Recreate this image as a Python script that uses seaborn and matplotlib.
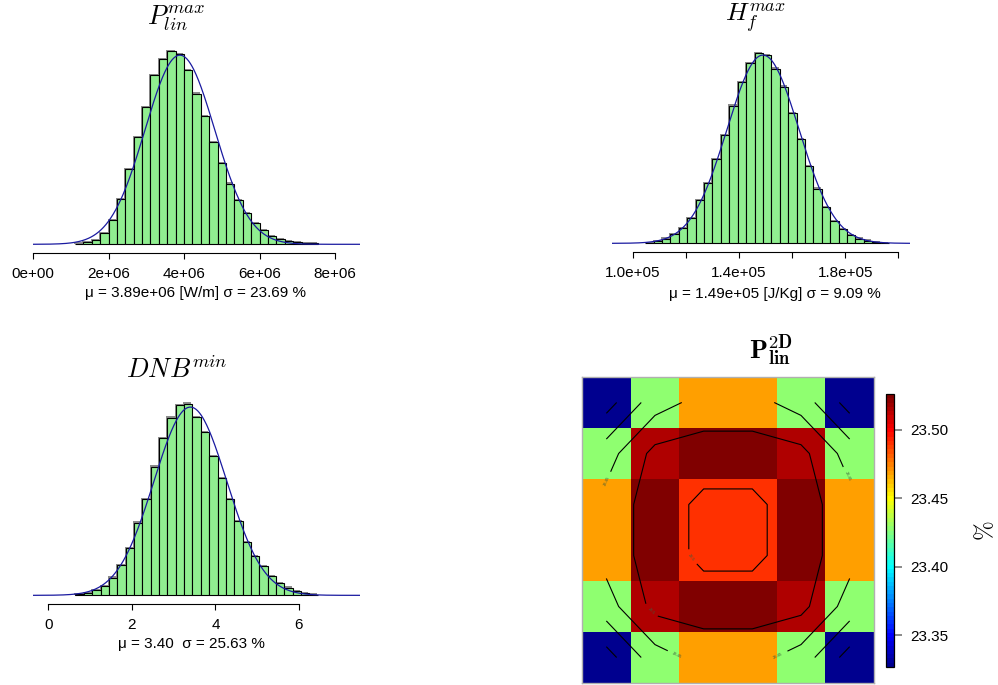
import numpy as np
import pandas as pd
import matplotlib
matplotlib.use("Agg")
import matplotlib.pyplot as plt
from matplotlib.colors import ListedColormap
from matplotlib.ticker import FormatStrFormatter
import seaborn as sns

sns.set_theme(style="white")
plt.rcParams['font.family'] = ['Liberation Sans', 'DejaVu Sans']
plt.rcParams['mathtext.fontset'] = 'cm'
plt.rcParams['text.color'] = 'black'
plt.rcParams['xtick.labelcolor'] = 'black'
plt.rcParams['ytick.labelcolor'] = 'black'

# ---- data ----
# P_lin^max histogram (density, in 1e-7 per W/m)
p_mean, p_sd_pct = 3.89e6, 23.69
p_bin0, p_binw = 1.1111e6, 2.2222e5
p_dens = [0.015, 0.054, 0.10, 0.25, 0.55, 1.04, 1.73, 2.46, 3.14, 3.87, 4.24, 4.43, 4.35, 3.98, 3.45,
          2.93, 2.33, 1.85, 1.39, 1.02, 0.71, 0.49, 0.32, 0.18, 0.11, 0.07, 0.05, 0.03, 0.02]
p_ticks = [0, 2e6, 4e6, 6e6, 8e6]
p_ticklabels = ['0e+00', '2e+06', '4e+06', '6e+06', '8e+06']

# H_f^max histogram (density, in 1e-5 per J/Kg)
h_mean, h_sd_pct = 1.49e5, 9.09
h_bin0, h_binw = 1.046e5, 3.17e3
h_dens = [0.010, 0.036, 0.073, 0.140, 0.239, 0.400, 0.675, 0.946, 1.320, 1.699, 2.156, 2.520, 2.816, 2.982, 2.951,
          2.733, 2.452, 2.037, 1.632, 1.205, 0.857, 0.566, 0.348, 0.229, 0.135, 0.073, 0.042, 0.021, 0.010]
h_ticks = [1.0e5, 1.2e5, 1.4e5, 1.6e5, 1.8e5, 2.0e5]
h_ticklabels = ['1.0e+05', '', '1.4e+05', '', '1.8e+05', '']

# DNB^min histogram (density)
d_mean, d_sd_pct = 3.40, 25.63
d_bin0, d_binw = 0.65, 0.2
d_dens = [0.0024, 0.0056, 0.012, 0.023, 0.043, 0.074, 0.115, 0.177, 0.234, 0.313, 0.383, 0.432, 0.462, 0.466, 0.434,
          0.396, 0.339, 0.285, 0.234, 0.181, 0.129, 0.095, 0.071, 0.047, 0.030, 0.019, 0.010, 0.006, 0.002]
d_ticks = [0, 2, 4, 6]
d_ticklabels = ['0', '2', '4', '6']

# P_lin 2D map (% std), 6x6 assemblies
p2d_values = [
    [23.329, 23.428, 23.468, 23.468, 23.428, 23.329],
    [23.428, 23.515, 23.525, 23.525, 23.515, 23.428],
    [23.468, 23.525, 23.489, 23.489, 23.525, 23.468],
    [23.468, 23.525, 23.489, 23.489, 23.525, 23.468],
    [23.428, 23.515, 23.525, 23.525, 23.515, 23.428],
    [23.329, 23.428, 23.468, 23.468, 23.428, 23.329],
]
p2d_vmin, p2d_vmax = 23.327, 23.526
p2d_levels = [23.35, 23.40, 23.45, 23.50]
p2d_cticks = [23.35, 23.40, 23.45, 23.50]

# 64-colour jet-like palette (fields::tim.colors)
tim_colors = ListedColormap([
    "#00008F", "#00009F", "#0000AF", "#0000BF", "#0000CF", "#0000DF", "#0000EF", "#0000FF",
    "#0010FF", "#0020FF", "#0030FF", "#0040FF", "#0050FF", "#0060FF", "#0070FF", "#0080FF",
    "#008FFF", "#009FFF", "#00AFFF", "#00BFFF", "#00CFFF", "#00DFFF", "#00EFFF", "#00FFFF",
    "#10FFEF", "#20FFDF", "#30FFCF", "#40FFBF", "#50FFAF", "#60FF9F", "#70FF8F", "#80FF80",
    "#8FFF70", "#9FFF60", "#AFFF50", "#BFFF40", "#CFFF30", "#DFFF20", "#EFFF10", "#FFFF00",
    "#FFEF00", "#FFDF00", "#FFCF00", "#FFBF00", "#FFAF00", "#FF9F00", "#FF8F00", "#FF8000",
    "#FF7000", "#FF6000", "#FF5000", "#FF4000", "#FF3000", "#FF2000", "#FF1000", "#FF0000",
    "#EF0000", "#DF0000", "#CF0000", "#BF0000", "#AF0000", "#9F0000", "#8F0000", "#800000"])

# ---- layout (pixels) ----
W, H = 998, 685
fig = plt.figure(figsize=(W / 100, H / 100), dpi=100)


def box(l, t, r, b):
    return [l / W, 1 - b / H, (r - l) / W, (b - t) / H]


def ftext(x, y, s, **kw):
    fig.text(x / W, 1 - y / H, s, ha='center', va='center', color='black', **kw)


def draw_hist(rect, bin0, binw, dens, scale, mean, sd_pct, xlim, ticks, ticklabels):
    ax = fig.add_axes(box(*rect))
    dens = np.array(dens) * scale
    edges = bin0 + binw * np.arange(len(dens) + 1)
    sd = mean * sd_pct / 100
    pk = 1 / (sd * np.sqrt(2 * np.pi))
    ylim = (-0.046 * pk, 1.08 * pk)
    # one pixel in data units, for the drop shadow
    px_x = (xlim[1] - xlim[0]) / (rect[2] - rect[0])
    px_y = (ylim[1] - ylim[0]) / (rect[3] - rect[1])
    df = pd.DataFrame({'x': edges[:-1] + binw / 2, 'w': dens})
    shadow = pd.DataFrame({'x': df['x'] - 1.0 * px_x, 'w': df['w'] + 1.2 * px_y})
    sns.histplot(data=shadow, x='x', weights='w', bins=list(edges - 1.0 * px_x), ax=ax,
                 color='#8c8c8c', edgecolor='none', alpha=1)
    sns.histplot(data=df, x='x', weights='w', bins=list(edges), ax=ax, color='#90EE90',
                 edgecolor='black', linewidth=0.8, alpha=1)
    xs = np.linspace(xlim[0], xlim[1], 400)
    ys = np.exp(-0.5 * ((xs - mean) / sd) ** 2) / (sd * np.sqrt(2 * np.pi))
    ax.plot(xs, ys, color='#1a1aa0', linewidth=0.9)
    ax.set_xlim(xlim)
    ax.set_ylim(ylim)
    ax.set_xlabel('')
    ax.set_ylabel('')
    ax.set_yticks([])
    ax.set_xticks(ticks)
    ax.set_xticklabels(ticklabels)
    for s in ['left', 'top', 'right']:
        ax.spines[s].set_visible(False)
    ax.spines['bottom'].set_bounds(ticks[0], ticks[-1])
    ax.spines['bottom'].set_color('black')
    ax.spines['bottom'].set_linewidth(0.8)
    ax.tick_params(axis='x', bottom=True, length=4.5, width=0.8, color='black', pad=5.5,
                   labelsize=11, labelcolor='black')
    ax.patch.set_alpha(0)
    return ax


draw_hist((33, 40, 360, 253), p_bin0, p_binw, p_dens, 1e-7, p_mean, p_sd_pct,
          (0, 8.66e6), p_ticks, p_ticklabels)
draw_hist((612, 40, 910, 252), h_bin0, h_binw, h_dens, 1e-5, h_mean, h_sd_pct,
          (0.921e5, 2.044e5), h_ticks, h_ticklabels)
draw_hist((33, 392, 360, 604), d_bin0, d_binw, d_dens, 1.0, d_mean, d_sd_pct,
          (-0.366, 7.46), d_ticks, d_ticklabels)

ftext(176, 18, r'$P_{lin}^{max}$', size=19)
ftext(755, 18, r'$H_f^{max}$', size=18.5)
ftext(177, 370, r'$DNB^{min}$', size=19)
ftext(771, 351, r'$\mathbf{P}_{\mathbf{lin}}^{\mathbf{2D}}$', size=19)

ftext(195.5, 293, 'μ = %.2e [W/m] σ = %.2f %%' % (p_mean, p_sd_pct), size=11)
ftext(774.5, 294, 'μ = %.2e [J/Kg] σ = %.2f %%' % (h_mean, h_sd_pct), size=11)
ftext(191.5, 644, 'μ = %.2f  σ = %.2f %%' % (d_mean, d_sd_pct), size=11)

# ---- 2D map ----
ax4 = fig.add_axes(box(582, 377, 874, 683))
cax = fig.add_axes(box(886, 394, 894, 667))
z = np.array(p2d_values)
sns.heatmap(z, ax=ax4, cbar_ax=cax, cmap=tim_colors, vmin=p2d_vmin, vmax=p2d_vmax,
            xticklabels=False, yticklabels=False, cbar_kws={'ticks': p2d_cticks})
for s in ax4.spines.values():
    s.set_visible(True)
    s.set_edgecolor('#b0b0b0')
    s.set_linewidth(1.0)
gx, gy = np.meshgrid(np.arange(z.shape[1]) + 0.5, np.arange(z.shape[0]) + 0.5)
cs = ax4.contour(gx, gy, z, levels=p2d_levels, colors='black', linewidths=0.8)
ax4.clabel(cs, manual=[(0.51, 2.04), (5.44, 1.95), (1.95, 5.45), (4.03, 5.45), (2.22, 3.55), (1.4, 4.6)],
           fontsize=3, fmt='%g', colors='#3d5c3d', inline=True)

cb = ax4.collections[0].colorbar
cb.outline.set_visible(True)
cb.outline.set_edgecolor('black')
cb.outline.set_linewidth(0.9)
cax.yaxis.set_major_formatter(FormatStrFormatter('%.2f'))
cax.tick_params(axis='y', right=True, length=6, width=1.2, color='#777777', pad=6, labelsize=11,
                labelcolor='black')

ftext(985, 531, r'$\%$', size=17, rotation=90)

fig.savefig('out.png', dpi=100)
